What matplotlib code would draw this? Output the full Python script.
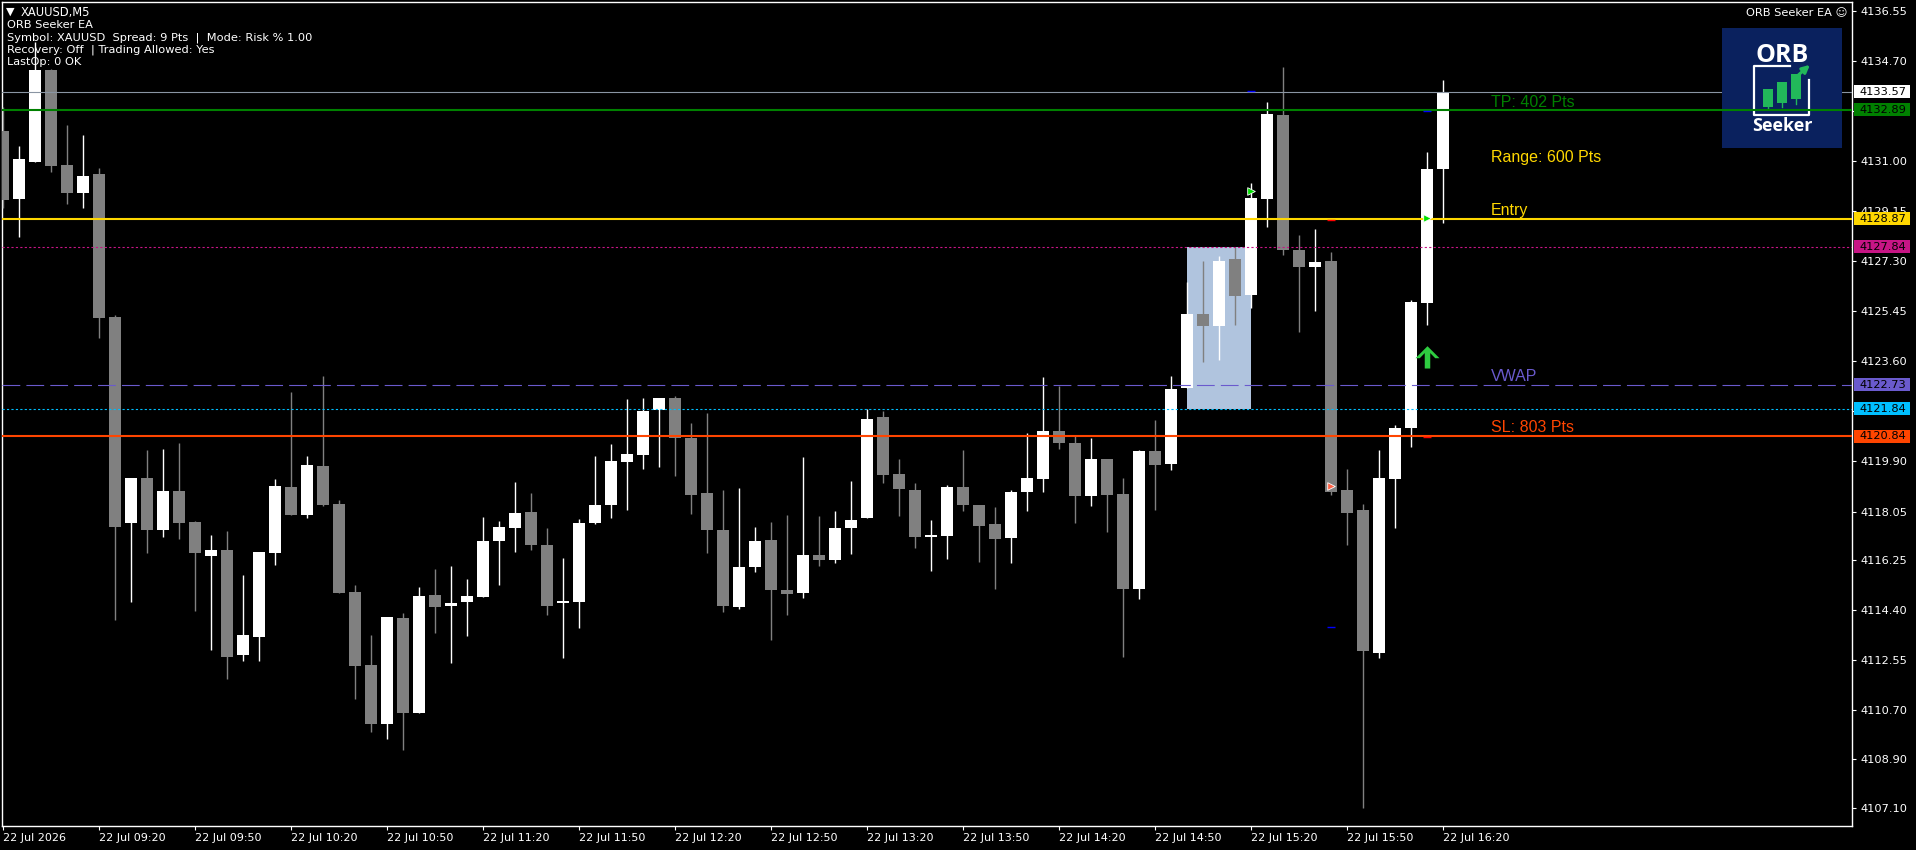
import numpy as np
import matplotlib.pyplot as plt
from matplotlib.patches import Rectangle
from matplotlib.transforms import blended_transform_factory

# XAUUSD M5 bars, 22 Jul 2026, first bar 08:50
opens = [4132.10, 4129.61, 4130.98, 4134.36, 4130.85, 4129.82, 4130.52, 4125.24, 4117.62, 4119.29,
         4117.38, 4118.81, 4117.67, 4116.42, 4116.64, 4112.76, 4113.42, 4116.52, 4118.94, 4117.92,
         4119.73, 4118.33, 4115.07, 4112.38, 4110.21, 4114.11, 4110.61, 4114.96, 4114.57, 4114.72,
         4114.91, 4116.95, 4117.43, 4118.04, 4116.82, 4114.67, 4114.72, 4117.61, 4118.28, 4119.88,
         4120.14, 4121.82, 4122.26, 4120.75, 4118.74, 4117.38, 4114.54, 4115.99, 4117.01, 4115.15,
         4115.05, 4116.45, 4116.25, 4117.43, 4117.80, 4121.56, 4119.42, 4118.85, 4117.10, 4117.14,
         4118.96, 4118.30, 4117.60, 4117.06, 4118.79, 4119.27, 4121.04, 4120.60, 4118.61, 4120.01,
         4118.70, 4115.20, 4120.30, 4119.81, 4122.61, 4125.34, 4124.91, 4127.38, 4126.05, 4129.59,
         4132.71, 4127.71, 4127.09, 4127.31, 4118.85, 4118.11, 4112.84, 4119.27, 4121.12, 4125.74,
         4130.72]
highs = [4132.99, 4131.55, 4135.40, 4134.40, 4132.33, 4131.95, 4130.73, 4125.31, 4119.29, 4120.33,
         4120.38, 4120.59, 4117.71, 4117.18, 4117.33, 4115.70, 4116.55, 4119.27, 4122.45, 4120.10,
         4123.06, 4118.48, 4115.35, 4113.50, 4114.16, 4114.30, 4115.26, 4115.94, 4116.05, 4115.55,
         4117.85, 4117.71, 4119.14, 4118.74, 4117.45, 4116.34, 4117.78, 4120.12, 4120.56, 4122.22,
         4122.26, 4122.26, 4122.33, 4121.34, 4121.71, 4118.85, 4118.92, 4117.49, 4117.67, 4117.93,
         4120.08, 4117.89, 4118.08, 4119.18, 4121.85, 4121.78, 4120.01, 4119.11, 4117.74, 4119.03,
         4120.34, 4118.30, 4118.22, 4118.85, 4120.97, 4123.01, 4122.70, 4120.89, 4120.75, 4120.01,
         4119.29, 4120.34, 4121.45, 4123.05, 4126.53, 4127.31, 4127.49, 4127.82, 4130.20, 4133.18,
         4134.46, 4128.27, 4128.49, 4127.64, 4119.64, 4118.33, 4120.34, 4121.26, 4125.87, 4131.34,
         4134.01]
lows = [4129.28, 4128.18, 4130.98, 4130.60, 4129.41, 4129.25, 4124.47, 4114.05, 4114.69, 4116.52,
        4117.10, 4117.05, 4114.36, 4112.95, 4111.85, 4112.51, 4112.54, 4116.06, 4117.92, 4117.82,
        4118.25, 4115.04, 4111.11, 4109.91, 4109.63, 4109.25, 4110.61, 4113.58, 4112.44, 4113.45,
        4114.91, 4115.35, 4116.55, 4116.62, 4114.21, 4112.64, 4113.76, 4117.58, 4117.80, 4118.09,
        4119.62, 4119.70, 4119.38, 4117.95, 4116.51, 4114.35, 4114.45, 4115.81, 4113.32, 4114.21,
        4114.87, 4116.03, 4116.14, 4116.47, 4117.80, 4119.09, 4117.89, 4116.71, 4115.86, 4116.31,
        4118.06, 4116.20, 4115.18, 4116.14, 4118.06, 4118.76, 4120.36, 4117.61, 4118.24, 4117.28,
        4112.66, 4114.83, 4118.09, 4119.59, 4122.61, 4123.58, 4123.66, 4124.95, 4125.56, 4128.56,
        4127.53, 4124.69, 4125.46, 4118.68, 4116.80, 4107.11, 4112.62, 4117.45, 4120.45, 4124.95,
        4128.73]
closes = [4129.58, 4131.09, 4134.36, 4130.81, 4129.82, 4130.45, 4125.21, 4117.49, 4119.29, 4117.38,
          4118.81, 4117.62, 4116.50, 4116.64, 4112.68, 4113.50, 4116.55, 4118.98, 4117.92, 4119.77,
          4118.28, 4115.04, 4112.35, 4110.21, 4114.16, 4110.61, 4114.92, 4114.54, 4114.67, 4114.92,
          4116.97, 4117.49, 4118.00, 4116.80, 4114.57, 4114.76, 4117.63, 4118.30, 4119.93, 4120.19,
          4121.78, 4122.26, 4120.78, 4118.68, 4117.36, 4114.57, 4116.01, 4116.97, 4115.16, 4115.02,
          4116.45, 4116.25, 4117.45, 4117.74, 4121.48, 4119.40, 4118.87, 4117.10, 4117.17, 4118.96,
          4118.31, 4117.52, 4117.04, 4118.78, 4119.29, 4121.04, 4120.58, 4118.61, 4120.01, 4118.68,
          4115.20, 4120.30, 4119.77, 4122.59, 4125.34, 4124.91, 4127.31, 4126.02, 4129.63, 4132.74,
          4127.71, 4127.09, 4127.27, 4118.76, 4118.00, 4112.88, 4119.29, 4121.15, 4125.78, 4130.72,
          4133.57]

time_ticks = [0, 6, 12, 18, 24, 30, 36, 42, 48, 54, 60, 66, 72, 78, 84, 90]
time_labels = ['22 Jul 2026', '22 Jul 09:20', '22 Jul 09:50', '22 Jul 10:20', '22 Jul 10:50',
               '22 Jul 11:20', '22 Jul 11:50', '22 Jul 12:20', '22 Jul 12:50', '22 Jul 13:20',
               '22 Jul 13:50', '22 Jul 14:20', '22 Jul 14:50', '22 Jul 15:20', '22 Jul 15:50',
               '22 Jul 16:20']
price_ticks = [4136.55, 4134.70, 4132.85, 4131.00, 4129.15, 4127.30, 4125.45, 4123.60, 4121.75,
               4119.90, 4118.05, 4116.25, 4114.40, 4112.55, 4110.70, 4108.90, 4107.10]

bid = 4133.57
tp = 4132.89
entry = 4128.87
orb_high = 4127.84
vwap = 4122.73
orb_low = 4121.84
sl = 4120.84
orb_from, orb_to = 74, 78

# trade arrows / order marks
buy_x = [78, 89]
buy_y = [4129.89, 4128.89]
close_x = [83]
close_y = [4118.98]
signal_x = [89]
signal_y = [4123.81]
blue_x = [78, 89, 83]
blue_y = [4133.60, 4132.87, 4113.80]
red_x = [83, 89]
red_y = [4128.82, 4120.82]

info = ['ORB Seeker EA',
        'Symbol: XAUUSD  Spread: 9 Pts  |  Mode: Risk % 1.00',
        'Recovery: Off  | Trading Allowed: Yes',
        'LastOp: 0 OK']

W, H = 1916, 850
fig = plt.figure(figsize=(W / 100, H / 100), dpi=100, facecolor='black')
ax = fig.add_axes([2 / W, 24 / H, 1850 / W, 824 / H], facecolor='black')
ax.set_xlim(-1 / 16, 1849 / 16)
ax.set_ylim(4106.43, 4136.88)

n = len(opens)
x = np.arange(n)
o = np.array(opens)
c = np.array(closes)
up = c >= o
col = np.where(up, '#ffffff', '#808080')
ax.vlines(x, lows, highs, colors=col, lw=1, zorder=3)
ax.bar(x, np.maximum(np.abs(c - o), 0.06), bottom=np.minimum(o, c), width=0.69,
       color=col, lw=0, zorder=4)

# opening range box
ax.add_patch(Rectangle((orb_from, orb_low), orb_to - orb_from, orb_high - orb_low,
                       fc='#b0c4de', ec='none', zorder=1))

ax.axhline(bid, color='#8a95a3', lw=0.8, zorder=5)
ax.axhline(tp, color='#008000', lw=1.5, zorder=6)
ax.axhline(entry, color='#ffd700', lw=1.5, zorder=5)
ax.axhline(orb_high, color='#c71585', lw=0.8, ls=(0, (2, 2)), zorder=5)
ax.axhline(vwap, color='#6a5acd', lw=0.8, ls=(0, (16, 5.5)), zorder=5)
ax.axhline(orb_low, color='#00bfff', lw=0.8, ls=(0, (2, 2)), zorder=5)
ax.axhline(sl, color='#ff4500', lw=1.5, zorder=5)

ax.scatter(buy_x, buy_y, marker='>', s=30, color='#00e000', edgecolors='white', lw=0.6, zorder=8)
ax.scatter(close_x, close_y, marker='>', s=30, color='#ff6347', edgecolors='white', lw=0.6, zorder=8)
ax.scatter(blue_x, blue_y, marker='_', s=40, color='#0000ff', lw=1, zorder=8)
ax.scatter(red_x, red_y, marker='_', s=40, color='#ff0000', lw=1, zorder=8)
arrow = [(0, 6), (-7, -1), (-4.5, -1), (-1.6, 2), (-1.6, -7), (1.6, -7), (1.6, 2), (4.5, -1), (7, -1), (0, 6)]
ax.scatter(signal_x, signal_y, marker=arrow, s=300, color='#2ecc40', lw=0, zorder=8)

# right-hand level labels
lx = n + 2
def pts(a, b):
    return round(abs(a - b) * 100)
lbl = dict(fontsize=11.5, family='Liberation Sans', va='baseline', textcoords='offset points', zorder=9)
ax.annotate(f'TP: {pts(tp, entry)} Pts', (lx, tp), xytext=(0, 2), color='#008000', **lbl)
ax.annotate(f'Range: {pts(orb_high, orb_low)} Pts', (lx, (tp + entry) / 2), xytext=(0, 1.5), color='#ffd700', **lbl)
ax.annotate('Entry', (lx, entry), xytext=(0, 2.5), color='#ffd700', **lbl)
ax.annotate('VWAP', (lx, vwap), xytext=(0, 3), color='#6a5acd', **lbl)
ax.annotate(f'SL: {pts(entry, sl)} Pts', (lx, sl), xytext=(0, 3), color='#ff4500', **lbl)

# axes styling
for s in ax.spines.values():
    s.set_color('white')
    s.set_linewidth(1)
ax.yaxis.tick_right()
ax.set_yticks(price_ticks, [f'{p:.2f}' for p in price_ticks])
ax.tick_params(axis='y', colors='white', labelsize=8.2, length=3, pad=3)
ax.set_xticks(time_ticks, time_labels)
ax.tick_params(axis='x', colors='white', labelsize=8, length=3, pad=2)
for t in ax.get_xticklabels():
    t.set_ha('left')

# coloured price tags on the scale
bt = blended_transform_factory(ax.transAxes, ax.transData)
box_h = 13 * (4136.88 - 4106.43) / 824
tags = [(bid, '#ffffff'), (tp, '#008000'), (entry, '#ffd700'), (orb_high, '#c71585'),
        (vwap, '#6a5acd'), (orb_low, '#00bfff'), (sl, '#ff4500')]
for p, fc in tags:
    ax.add_patch(Rectangle((1852 / 1850, p - box_h / 2), 56 / 1850, box_h, transform=bt,
                           fc=fc, ec='none', clip_on=False, zorder=10))
    ax.text(1857 / 1850, p, f'{p:.2f}', transform=bt, color='black', fontsize=8.2,
            va='center', ha='left', clip_on=False, zorder=11)

# info block top-left
fig.text(6 / W, 1 - 12 / H, '\u25bc', color='white', fontsize=8, va='center')
fig.text(21 / W, 1 - 12.5 / H, 'XAUUSD,M5', color='white', fontsize=8.3, va='center')
for k, line in enumerate(info):
    fig.text(7 / W, 1 - (25.5 + 12.1 * k) / H, line, color='white', fontsize=8.2, va='center')
fig.text(1847 / W, 1 - 13 / H, 'ORB Seeker EA \u263a', color='white', fontsize=8.2, ha='right', va='center')

# logo
logo = ax.inset_axes([1720 / 1850, 678 / 824, 120 / 1850, 120 / 824], zorder=5.5)
logo.set_xlim(0, 120)
logo.set_ylim(120, 0)
logo.axis('off')
logo.add_patch(Rectangle((0, 0), 120, 120, fc='#0a215e', ec='none'))
logo.text(60, 27, 'ORB', color='white', fontsize=18, fontweight='bold', family='Open Sans',
          ha='center', va='center')
logo.plot([68, 32, 32, 87, 87], [38, 38, 87, 87, 52], color='white', lw=1.6)
green = '#22b85a'
for bx, top, bot, wb in [(41, 61, 79, 80), (55, 54, 75, 79), (69, 46, 71, 76)]:
    logo.add_patch(Rectangle((bx, top), 9.5, bot - top, fc=green, ec='none'))
    logo.plot([bx + 4.75, bx + 4.75], [bot, wb], color=green, lw=1)
logo.annotate('', xy=(90, 35), xytext=(73, 50),
              arrowprops=dict(arrowstyle='-|>', color=green, lw=2.2, mutation_scale=11))
logo.text(60, 98, 'Seeker', color='white', fontsize=13, fontweight='bold', family='Open Sans',
          ha='center', va='center')

fig.savefig('out.png', dpi=100, facecolor='black')
